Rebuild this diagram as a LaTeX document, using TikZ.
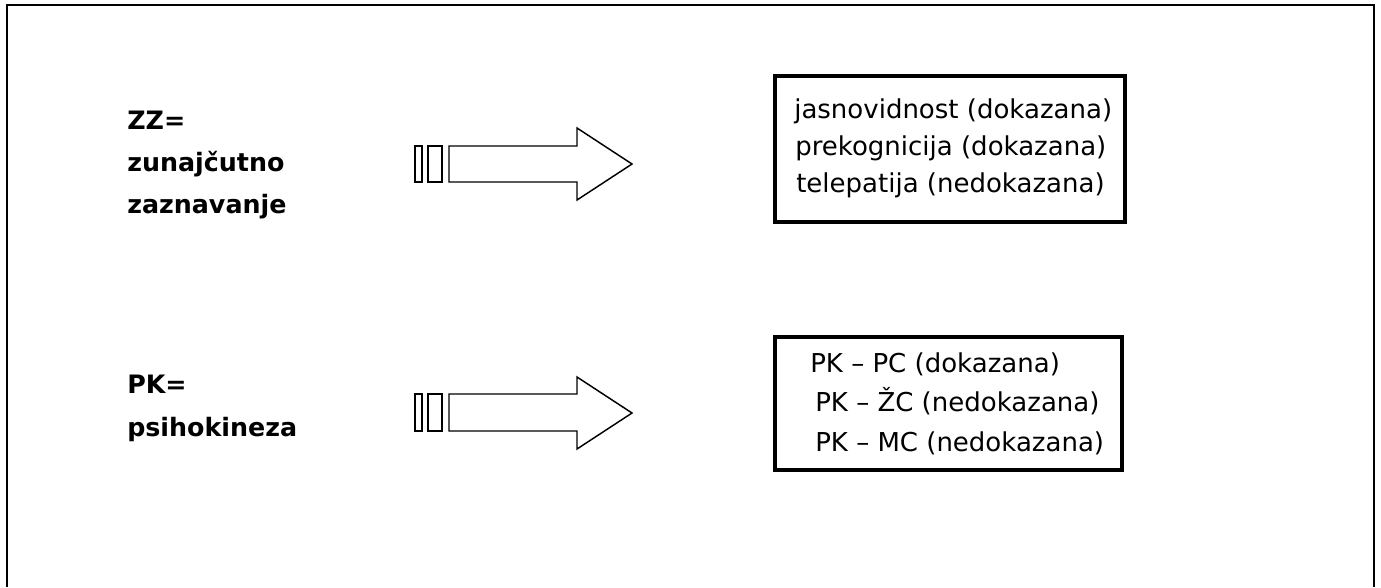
\documentclass[tikz,border=0pt]{standalone}
\usepackage{fontspec}
\setmainfont{DejaVu Sans}
\begin{document}
\begin{tikzpicture}[x=0.75pt,y=-0.75pt,
  frame/.style={line width=1.6pt},
  listbox/.style={line width=2.6pt},
  arrowline/.style={line width=1.1pt, line join=miter},
  lefttext/.style={anchor=base west, inner sep=0pt, font=\fontsize{19}{22}\selectfont\bfseries},
  righttext/.style={anchor=base west, inner sep=0pt, font=\fontsize{19.5}{22}\selectfont}]
\useasboundingbox (0,0) rectangle (1381,587);
% outer frame (open at the bottom)
\draw[frame] (7,587) -- (7,5) -- (1374,5) -- (1374,587);
% left labels
\node[lefttext] (zz1) at (127,129) {ZZ=};
\node[lefttext] (zz2) at (127,171) {zunajčutno};
\node[lefttext] (zz3) at (127,213) {zaznavanje};
\node[lefttext] (pk1) at (127,393) {PK=};
\node[lefttext] (pk2) at (127,436) {psihokineza};
% arrow 1
\draw[arrowline] (415,146) rectangle (422,182);
\draw[arrowline] (428,146) rectangle (442,182);
\draw[arrowline] (449,146) -- (577,146) -- (577,128) -- (632,164) -- (577,200) -- (577,182) -- (449,182) -- cycle;
% arrow 2
\draw[arrowline] (415,394) rectangle (422,431);
\draw[arrowline] (428,394) rectangle (442,431);
\draw[arrowline] (449,394) -- (577,394) -- (577,377) -- (632,413) -- (577,449) -- (577,431) -- (449,431) -- cycle;
% box 1
\draw[listbox] (775,76) rectangle (1125,222);
\node[righttext] (a1) at (794,118) {jasnovidnost (dokazana)};
\node[righttext] (a2) at (795,155) {prekognicija (dokazana)};
\node[righttext] (a3) at (796,192) {telepatija (nedokazana)};
% box 2
\draw[listbox] (775,337) rectangle (1122,470);
\node[righttext] (b1) at (810,372) {PK – PC (dokazana)};
\node[righttext] (b2) at (815,411) {PK – ŽC (nedokazana)};
\node[righttext] (b3) at (815,451) {PK – MC (nedokazana)};
\end{tikzpicture}
\end{document}
